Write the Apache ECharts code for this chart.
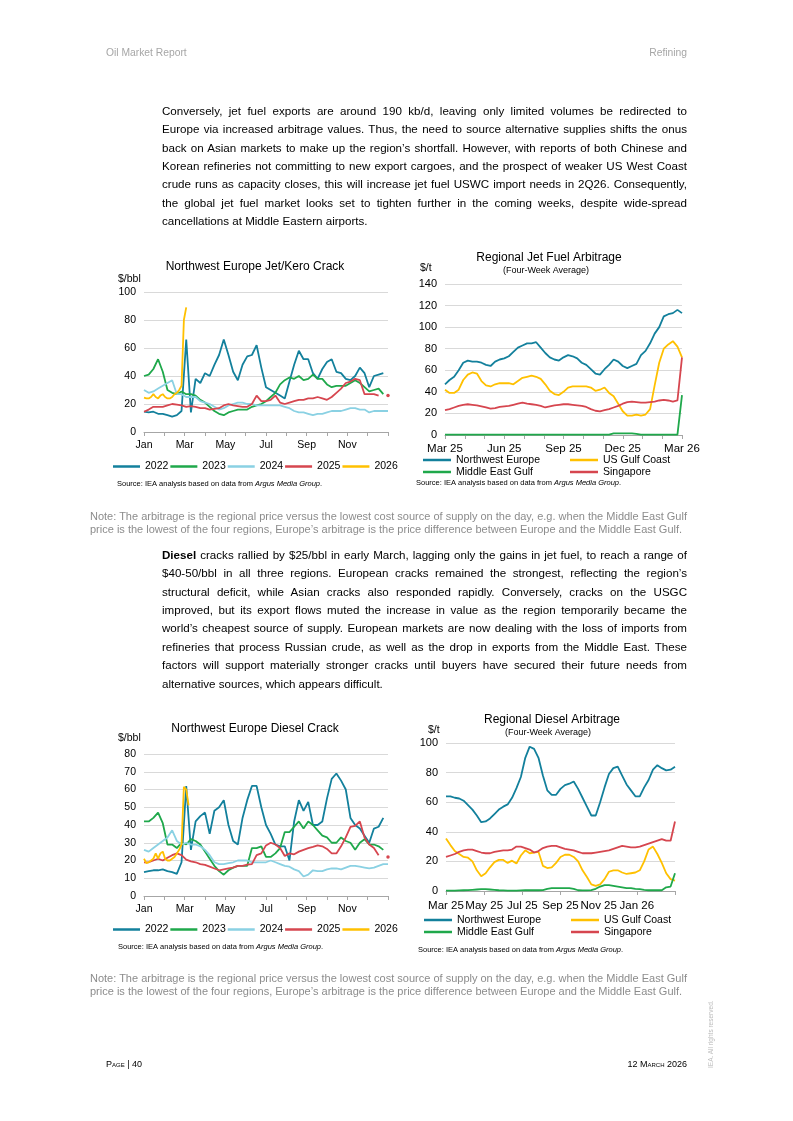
<!DOCTYPE html>
<html><head><meta charset="utf-8">
<script src="https://cdn.jsdelivr.net/npm/echarts@6/dist/echarts.min.js"></script>
<style>
html,body{margin:0;padding:0;background:#fff;}
#page{position:relative;width:793px;height:1121px;overflow:hidden;font-family:'Liberation Sans',Arial,sans-serif;color:#000;}
#chart{position:absolute;left:0;top:0;width:793px;height:1121px;}
.t{position:absolute;white-space:nowrap;}
.para{position:absolute;left:162px;width:525px;font-size:11.6px;}
.para div{height:18.4px;line-height:18.4px;white-space:nowrap;text-align:left;}
.note{position:absolute;left:90px;font-size:11px;color:#8c8c8c;line-height:12.6px;white-space:nowrap;}
.hdr{position:absolute;top:47px;font-size:10.3px;color:#a6a6a6;white-space:nowrap;}
.foot{position:absolute;top:1059px;font-size:9px;font-variant:small-caps;color:#000;white-space:nowrap;}
</style></head>
<body>
<div id="page">
<div id="chart"></div>
<div class="hdr" style="left:106px;">Oil Market Report</div>
<div class="hdr" style="right:106px;">Refining</div>

<div class="para" style="top:101.8px;">
<div class="j">Conversely, jet fuel exports are around 190 kb/d, leaving only limited volumes be redirected to</div>
<div class="j">Europe via increased arbitrage values. Thus, the need to source alternative supplies shifts the onus</div>
<div class="j">back on Asian markets to make up the region’s shortfall. However, with reports of both Chinese and</div>
<div class="j">Korean refineries not committing to new export cargoes, and the prospect of weaker US West Coast</div>
<div class="j">crude runs as capacity closes, this will increase jet fuel USWC import needs in 2Q26. Consequently,</div>
<div class="j">the global jet fuel market looks set to tighten further in the coming weeks, despite wide-spread</div>
<div>cancellations at Middle Eastern airports.</div>
</div>

<div class="note" style="top:510px;">Note: The arbitrage is the regional price versus the lowest cost source of supply on the day, e.g. when the Middle East Gulf<br>price is the lowest of the four regions, Europe’s arbitrage is the price difference between Europe and the Middle East Gulf.</div>

<div class="para" style="top:545.8px;">
<div class="j"><b>Diesel</b> cracks rallied by $25/bbl in early March, lagging only the gains in jet fuel, to reach a range of</div>
<div class="j">$40-50/bbl in all three regions. European cracks remained the strongest, reflecting the region’s</div>
<div class="j">structural deficit, while Asian cracks also responded rapidly. Conversely, cracks on the USGC</div>
<div class="j">improved, but its export flows muted the increase in value as the region temporarily became the</div>
<div class="j">world’s cheapest source of supply. European markets are now dealing with the loss of imports from</div>
<div class="j">refineries that process Russian crude, as well as the drop in exports from the Middle East. These</div>
<div class="j">factors will support materially stronger cracks until buyers have secured their future needs from</div>
<div>alternative sources, which appears difficult.</div>
</div>

<div class="note" style="top:972px;">Note: The arbitrage is the regional price versus the lowest cost source of supply on the day, e.g. when the Middle East Gulf<br>price is the lowest of the four regions, Europe’s arbitrage is the price difference between Europe and the Middle East Gulf.</div>

<div class="foot" style="left:106px;">Page | 40</div>
<div class="foot" style="right:106px;">12 March 2026</div>
<div class="t" style="left:707px;top:1068px;font-size:6.5px;color:#bdbdbd;transform-origin:0 0;transform:rotate(-90deg);">IEA. All rights reserved.</div>
</div>

<script>
// justify each full line exactly to the 525px text column
document.querySelectorAll('.para div.j').forEach(d=>{
  d.innerHTML = '<span>' + d.innerHTML + '</span>';
  const w = d.firstChild.getBoundingClientRect().width;
  const n = (d.textContent.match(/ /g) || []).length;
  if (n > 0) d.style.wordSpacing = ((525 - w) / n) + 'px';
});

// ---------- DATA ----------
// Crack charts: weekly values from 1 Jan (x in months, step 12/52)
const crackMonthLabels = ['Jan','','Mar','','May','','Jul','','Sep','','Nov','',''];
const crackYears = ['2022','2023','2024','2025','2026'];

const jetCrack2022 = [14.5,14,14.5,13,13,12,11,12,15,66,14,38,35,42,40,48,55,66,55,43,37,48,54,55,62,46,32,30,28,26,24,36,48,58,52,52,42,38,45,50,52,43,42,38,37,40,46,42,32,40,41,42];
const jetCrack2023 = [40,41,45,52,43,30,28,27,29,27,27,26,23,21,18,15,13,12,14,15,16,16,16,18,19,20,22,25,28,34,37,39,38,40,37,38,41,38,38,34,32,33,33,33,35,37,35,32,29,30,31,27];
const jetCrack2024 = [30,28,29,31,33,35,37,27,27,25,25,25,22,21,20,18,16,17,19,20,21,21,20,20,19,19,19,19,19,19,18,17,15,14,14,13,12,13,13,14,15,15,15,16,17,17,16,16,14,15,15,15,15];
const jetCrack2025 = [14.5,16,18,18,18,19,20,19.5,19,18,18.5,18,17,17,16,16.5,17,19,20,19,18.5,18,18,20,26,22,22,23,26,21,20,21,22,23,23,24,24,25,24,23,25,28,31,35,36,38,37,27,27,27,26,null,26];
// 2026: twice-weekly values (step 6/52)
const jetCrack2026 = [24.5,24,24,25,27,25,24,26,27,25,24,24,25,27,28,30,33,80,89];

const dieselCrack2022 = [13.5,14,14.5,14.5,15,14,13.5,12.5,19,62,26,42,45,47,35,48,50,54,40,31,29,44,54,62,62,50,40,35,29,28,28,20,42,54,48,53,40,40,42,55,66,69,65,60,44,40,38,34,30,38,39,44];
const dieselCrack2023 = [42,42,44,47,41,29,29,27,30,29,32,31,29,25,21,17,14,12,14.5,16,17,17,17,27,27,28,22,22,24,27,36,36,39,42,38,42,40,37,34,33,30,30,33,31,30,26,30,32,29,29,28,26];
const dieselCrack2024 = [26,25,27,29,31,33,37,31,29,30,29,29,28,26,23,19,18,18,18.5,19,20,20,20,19,19,19,19,20,19,18,17,16.5,15,14,11,12,14.5,14,14,15,15.5,15.5,15,16,17,17,16.5,16,15.5,16,17,18,18];
const dieselCrack2025 = [19,19,20,21,20,21.5,23,24,23,20.5,19.5,19,18,17.5,16.5,15.5,14.5,15,15.5,16,17,17,17.7,18,23,24,28.5,30,29,27,22.5,24,23.5,25,26,27,27.7,28.5,28,26.5,24,24,28,33,39,39.5,42,33,29,27,23,null,22];
const dieselCrack2026 = [21,18.5,19,20,21,24,21,24,25,21,20,20,21,22,24,26,29,61.5,60,51];

// Arbitrage charts: weekly four-week averages from March 2025 to March 2026
const arbRegions = ['Northwest Europe','US Gulf Coast','Middle East Gulf','Singapore'];
const jetArbLabels = {0:'Mar 25',3:'Jun 25',6:'Sep 25',9:'Dec 25',12:'Mar 26'};
const dieselArbLabels = {0:'Mar 25',2:'May 25',4:'Jul 25',6:'Sep 25',8:'Nov 25',10:'Jan 26'};

const jetArbNWE = [47,51,54,60,67,69,68,68,67,65,64,68,70,71,73,77,81,83,85,85,86,81,76,72,70,69,72,74,73,71,67,65,61,57,56,61,65,70,68,64,62,64,66,74,78,85,94,100,110,112,113,116,113];
const jetArbUSGC = [42,39,39,42,51,56,58,57,50,46,45,47,48,48,48,47,50,53,54,55,54,52,47,41,38,37,40,44,45,45,45,45,44,41,42,44,39,36,29,22,18,18,19,18,19,24,46,67,80,84,87,82,72];
const jetArbMEG = [0.3,0.3,0.3,0.3,0.3,0.3,0.3,0.3,0.3,0.3,0.3,0.3,0.3,0.3,0.3,0.3,0.3,0.3,0.3,0.3,0.3,0.3,0.3,0.3,0.3,0.3,0.3,0.3,0.3,0.3,0.3,0.3,0.3,0.3,0.3,0.3,0.3,1.5,1.5,1.5,1.5,1.5,1,0.3,0.3,0.3,0.3,0.3,0.3,0.3,0.3,0.3,37];
const jetArbSGP = [23,24,25.5,27,28,28.5,28,27.5,26.5,25.5,24.5,25,26,26.5,27,28,29,30,29,28.5,28,27,25.5,26.5,27.5,28,28.5,28.5,28,27.5,27,26,24,22.5,22,23,24,25.5,27,29,30.5,31,30.5,30,30,30.5,31,32,32.5,32,31,32,72];

const dieselArbNWE = [64,64,63,62.5,61,58,55,51,46.5,47,49,52,55,57,58.5,63,69.5,77,90,97.5,96,90,78,68,65,65,69,71.5,72.5,74,69,63,57,51,51,60,70,79,83,84,78,72,68,64,64,70,75,82,85,83,81.5,82,84];
const dieselArbUSGC = [35.5,31,27,25,23,22.5,20,14,10,12,16,19.5,21,21,19,20.5,18.5,24,27.5,25.5,26,26.5,17,15.5,16,19,23,24.5,24.5,23,20,14,9.5,4.5,3.5,4.5,8,13,14,14,12.5,11.5,12,12.5,14,20,28,30,25,19,12,8,7];
const dieselArbMEG = [0.3,0.3,0.3,0.4,0.5,0.6,0.8,1,1.2,1.2,1,0.8,0.5,0.4,0.3,0.3,0.3,0.4,0.5,0.5,0.5,0.5,0.6,1.5,2,2,2,2,2,1.5,0.5,0.4,0.4,0.6,1.5,3,4,4,3.5,3,2.5,2,2,1.5,1.2,0.8,0.5,0.5,0.5,0.5,2.5,3,12];
const dieselArbSGP = [23,24,25,26.5,27.5,28,28,27,26,25.5,25.5,26.5,27,27.5,27.5,28,30,30,29,28,26,27,29,30,30.5,30.5,29.5,28.5,28,27.5,26.5,25.5,25.5,25.5,26,26.5,27,27.5,28.5,29.5,30.5,30,29.5,29.5,30,31,32,33,34,35,34,34,47];

// ---------- CHART ----------
const FONT = "'Liberation Sans', Arial, sans-serif";
const COL = {c2022:'#13809c', c2023:'#1fa84b', c2024:'#8ad1e3', c2025:'#d6464f', c2026:'#ffc000'};
const yearColors = [COL.c2022, COL.c2023, COL.c2024, COL.c2025, COL.c2026];
const regionColors = [COL.c2022, COL.c2026, COL.c2023, COL.c2025];
const WEEK = 12/52, HALFWEEK = 6/52;

function pts(arr, step){ return arr.map((v,i)=>[i*step, v==null ? '-' : v]); }
function withEndDot(arr, step){
  const d = pts(arr, step);
  const last = d[d.length-1];
  d[d.length-1] = {value:last, symbol:'circle', symbolSize:3.5};
  return d;
}
function line(name, data, color, idx){
  return {name, type:'line', xAxisIndex:idx, yAxisIndex:idx, data, symbol:'none', showSymbol:true,
    lineStyle:{color, width:1.8}, itemStyle:{color}, connectNulls:false, animation:false, z:2};
}
const axisGray = '#a6a6a6';
function xAxisDef(idx, interval, fmt, size, margin){
  return {type:'value', gridIndex:idx, min:0, max:12, interval,
    axisLine:{show:true, onZero:false, lineStyle:{color:axisGray, width:1}},
    axisTick:{show:true, length:4, lineStyle:{color:axisGray}},
    splitLine:{show:false},
    axisLabel:{fontSize:size, color:'#000', fontFamily:FONT, margin, showMinLabel:true, showMaxLabel:true, formatter:fmt}};
}
function yAxisDef(idx, max, interval, size, margin){
  return {type:'value', gridIndex:idx, min:0, max, interval,
    axisLine:{show:false}, axisTick:{show:false},
    splitLine:{show:true, lineStyle:{color:'#d9d9d9', width:1}},
    axisLabel:{fontSize:size, color:'#000', fontFamily:FONT, margin}};
}
function txt(x, y, text, size, align){
  return {type:'text', x, y, silent:true, style:{text, fill:'#000', fontSize:size, fontFamily:FONT, align:align||'left', verticalAlign:'middle',
    rich:{it:{fontStyle:'italic', fontSize:size, fontFamily:FONT, fill:'#000'}}}};
}
const srcText = 'Source: IEA analysis based on data from {it|Argus Media Group}.';

const crackFmt = v => crackMonthLabels[Math.round(v)] || '';
const jetArbFmt = v => jetArbLabels[Math.round(v)] || '';
const dieselArbFmt = v => dieselArbLabels[Math.round(v)] || '';

const legendText = {fontSize:10.5, color:'#000', fontFamily:FONT};
function yearLegend(top){
  return {left:108, top, orient:'horizontal', icon:'rect', itemWidth:27, itemHeight:2.5, itemGap:2,
    selectedMode:false, textStyle:legendText, data:crackYears};
}
function regionLegend(left, top, names){
  return {left, top, orient:'vertical', icon:'rect', itemWidth:28, itemHeight:2.5, itemGap:0,
    selectedMode:false, textStyle:Object.assign({lineHeight:12}, legendText), data:names};
}

const series = [];
const jetCrack = [jetCrack2022, jetCrack2023, jetCrack2024, jetCrack2025, jetCrack2026];
const dieselCrack = [dieselCrack2022, dieselCrack2023, dieselCrack2024, dieselCrack2025, dieselCrack2026];
crackYears.forEach((y,i)=>{
  const step = (y==='2026') ? HALFWEEK : WEEK;
  const dj = (y==='2025') ? withEndDot(jetCrack[i], step) : pts(jetCrack[i], step);
  const dd = (y==='2025') ? withEndDot(dieselCrack[i], step) : pts(dieselCrack[i], step);
  series.push(line(y, dj, yearColors[i], 0));
  series.push(line(y, dd, yearColors[i], 2));
});
const jetArb = [jetArbNWE, jetArbUSGC, jetArbMEG, jetArbSGP];
const dieselArb = [dieselArbNWE, dieselArbUSGC, dieselArbMEG, dieselArbSGP];
arbRegions.forEach((r,i)=>{
  series.push(line(r, pts(jetArb[i], WEEK), regionColors[i], 1));
  series.push(line(r, pts(dieselArb[i], WEEK), regionColors[i], 3));
});

const option = {
  animation:false,
  textStyle:{fontFamily:FONT},
  grid:[
    {left:144, top:292, width:244, height:140},
    {left:445, top:284, width:237, height:151},
    {left:144, top:754, width:244, height:142},
    {left:446, top:743, width:229, height:148}
  ],
  xAxis:[ xAxisDef(0,1,crackFmt,10.5,8), xAxisDef(1,1,jetArbFmt,11.5,8), xAxisDef(2,1,crackFmt,10.5,8), xAxisDef(3,2,dieselArbFmt,11.5,9) ],
  yAxis:[ yAxisDef(0,100,20,10.5,8), yAxisDef(1,140,20,11,8), yAxisDef(2,80,10,10.5,8), yAxisDef(3,100,20,11,8) ],
  legend:[
    yearLegend(456),
    regionLegend(418, 449, ['Northwest Europe','Middle East Gulf']),
    regionLegend(565, 449, ['US Gulf Coast','Singapore']),
    yearLegend(919),
    regionLegend(419, 909, ['Northwest Europe','Middle East Gulf']),
    regionLegend(566, 909, ['US Gulf Coast','Singapore'])
  ],
  graphic:[
    txt(255, 267, 'Northwest Europe Jet/Kero Crack', 12, 'center'),
    txt(118, 279, '$/bbl', 10.5),
    txt(117, 484, srcText, 7.5),
    txt(549, 258, 'Regional Jet Fuel Arbitrage', 12, 'center'),
    txt(546, 271, '(Four-Week Average)', 9, 'center'),
    txt(420, 268, '$/t', 10.5),
    txt(416, 483, srcText, 7.5),
    txt(255, 729, 'Northwest Europe Diesel Crack', 12, 'center'),
    txt(118, 738, '$/bbl', 10.5),
    txt(118, 947, srcText, 7.5),
    txt(552, 720, 'Regional Diesel Arbitrage', 12, 'center'),
    txt(548, 733, '(Four-Week Average)', 9, 'center'),
    txt(428, 730, '$/t', 10.5),
    txt(418, 950, srcText, 7.5)
  ],
  series
};
const chart = echarts.init(document.getElementById('chart'), null, {renderer:'canvas'});
chart.setOption(option);
</script>
</body></html>
